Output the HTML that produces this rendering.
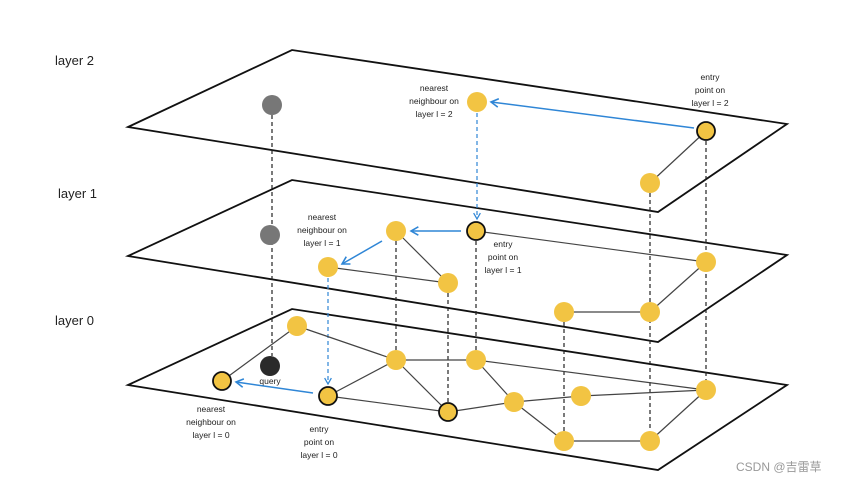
<!DOCTYPE html>
<html><head><style>body{margin:0;background:#fff}svg{display:block}text{font-family:"Liberation Sans",sans-serif;fill:#222}</style></head><body>
<svg width="851" height="483" viewBox="0 0 851 483" xmlns="http://www.w3.org/2000/svg">
<defs><marker id="a" viewBox="0 0 10 10" refX="8" refY="5" markerWidth="7" markerHeight="7" orient="auto"><path d="M1,1 L8,5 L1,9" fill="none" stroke="#2f86d6" stroke-width="1.5"/></marker></defs>
<g fill="none" stroke="#111" stroke-width="1.8">
<polygon points="128,127 292,50 787,124 658,212"/>
<polygon points="128,256 292,180 787,255 658,342"/>
<polygon points="128,385 292,309 787,385 658,470"/>
</g>
<g stroke="#222" stroke-width="1.2" stroke-dasharray="4,3">
<line x1="272" y1="115" x2="272" y2="356"/>
<line x1="396" y1="241" x2="396" y2="350"/>
<line x1="448" y1="293" x2="448" y2="402"/>
<line x1="476" y1="241" x2="476" y2="350"/>
<line x1="650" y1="193" x2="650" y2="431"/>
<line x1="706" y1="141" x2="706" y2="380"/>
<line x1="564" y1="322" x2="564" y2="431"/>
</g>
<g stroke="#2f86d6" stroke-width="1.2" stroke-dasharray="4,3" fill="none">
<line x1="477" y1="113" x2="477" y2="219" marker-end="url(#a)"/>
<line x1="328" y1="278" x2="328" y2="384" marker-end="url(#a)"/>
</g>
<g stroke="#2f86d6" stroke-width="1.5" fill="none">
<line x1="694" y1="128" x2="491" y2="102" marker-end="url(#a)"/>
<line x1="461" y1="231" x2="411" y2="231" marker-end="url(#a)"/>
<line x1="382" y1="241" x2="342" y2="264" marker-end="url(#a)"/>
<line x1="313" y1="393" x2="236" y2="382" marker-end="url(#a)"/>
</g>
<g stroke="#444" stroke-width="1.2">
<line x1="706" y1="131" x2="650" y2="183"/>
<line x1="396" y1="231" x2="448" y2="283"/>
<line x1="328" y1="267" x2="448" y2="283"/>
<line x1="476" y1="231" x2="706" y2="262"/>
<line x1="706" y1="262" x2="650" y2="312"/>
<line x1="564" y1="312" x2="650" y2="312"/>
<line x1="297" y1="326" x2="222" y2="381"/>
<line x1="297" y1="326" x2="396" y2="360"/>
<line x1="396" y1="360" x2="476" y2="360"/>
<line x1="396" y1="360" x2="328" y2="396"/>
<line x1="396" y1="360" x2="448" y2="412"/>
<line x1="328" y1="396" x2="448" y2="412"/>
<line x1="448" y1="412" x2="514" y2="402"/>
<line x1="476" y1="360" x2="514" y2="402"/>
<line x1="476" y1="360" x2="706" y2="390"/>
<line x1="514" y1="402" x2="581" y2="396"/>
<line x1="581" y1="396" x2="706" y2="390"/>
<line x1="514" y1="402" x2="564" y2="441"/>
<line x1="564" y1="441" x2="650" y2="441"/>
<line x1="650" y1="441" x2="706" y2="390"/>
</g>
<g fill="#777"><circle cx="272" cy="105" r="10"/><circle cx="270" cy="235" r="10"/></g>
<circle cx="270" cy="366" r="10" fill="#2a2a2a"/>
<g fill="#f2c443">
<circle cx="477" cy="102" r="10"/><circle cx="650" cy="183" r="10"/>
<circle cx="396" cy="231" r="10"/><circle cx="328" cy="267" r="10"/><circle cx="448" cy="283" r="10"/><circle cx="706" cy="262" r="10"/><circle cx="650" cy="312" r="10"/><circle cx="564" cy="312" r="10"/>
<circle cx="297" cy="326" r="10"/><circle cx="396" cy="360" r="10"/><circle cx="476" cy="360" r="10"/><circle cx="514" cy="402" r="10"/><circle cx="581" cy="396" r="10"/><circle cx="706" cy="390" r="10"/><circle cx="564" cy="441" r="10"/><circle cx="650" cy="441" r="10"/>
</g>
<g fill="#f2c443" stroke="#111" stroke-width="1.8">
<circle cx="706" cy="131" r="9"/><circle cx="476" cy="231" r="9"/><circle cx="222" cy="381" r="9"/><circle cx="328" cy="396" r="9"/><circle cx="448" cy="412" r="9"/>
</g>
<g font-size="13"><text x="55" y="65">layer 2</text><text x="58" y="198">layer 1</text><text x="55" y="325">layer 0</text></g>
<g font-size="8.5" text-anchor="middle">
<text x="434" y="91">nearest</text><text x="434" y="104">neighbour on</text><text x="434" y="117">layer l = 2</text>
<text x="710" y="80">entry</text><text x="710" y="93">point on</text><text x="710" y="106">layer l = 2</text>
<text x="322" y="220">nearest</text><text x="322" y="233">neighbour on</text><text x="322" y="246">layer l = 1</text>
<text x="503" y="247">entry</text><text x="503" y="260">point on</text><text x="503" y="273">layer l = 1</text>
<text x="270" y="384">query</text>
<text x="211" y="412">nearest</text><text x="211" y="425">neighbour on</text><text x="211" y="438">layer l = 0</text>
<text x="319" y="432">entry</text><text x="319" y="445">point on</text><text x="319" y="458">layer l = 0</text>
</g>
<text x="736" y="471" font-size="12" fill="#888" style="fill:#999">CSDN @<tspan font-family="Noto Sans CJK SC">吉雷草</tspan></text>
</svg>
</body></html>
